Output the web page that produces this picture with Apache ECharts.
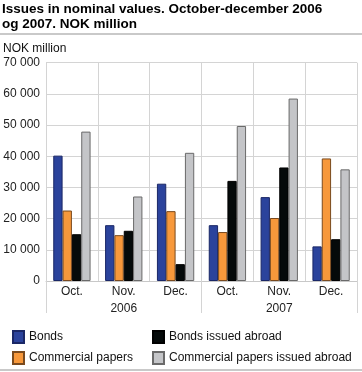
<!DOCTYPE html>
<html>
<head>
<meta charset="utf-8">
<script src="https://cdn.jsdelivr.net/npm/echarts@6/dist/echarts.min.js"></script>
<style>
html,body{margin:0;padding:0;background:#fff;}
#c{width:362px;height:372px;}
</style>
</head>
<body>
<div id="c"></div>
<script>
var months = ['Oct.', 'Nov.', 'Dec.', 'Oct.', 'Nov.', 'Dec.'];
var years = ['2006', '2007'];
var bonds = [40200, 17900, 31200, 17900, 26900, 11100];
var commercialPapers = [22600, 14700, 22400, 15700, 20200, 39300];
var bondsAbroad = [15000, 16100, 5400, 32100, 36400, 13400];
var commercialPapersAbroad = [47900, 27100, 41100, 49700, 58500, 35800];
var seriesNames = ['Bonds', 'Commercial papers', 'Bonds issued abroad', 'Commercial papers issued abroad'];

var font = 'Liberation Sans, Arial, sans-serif';
var chart = echarts.init(document.getElementById('c'), null, {renderer: 'canvas'});

function bar(name, data, color, border) {
  return {
    name: name, type: 'bar', data: data, xAxisIndex: 0,
    barGap: '0%', barCategoryGap: '28%',
    itemStyle: {color: color, borderColor: border, borderWidth: 1},
    emphasis: {disabled: true}
  };
}

function legendBlock(names, left) {
  return {
    data: names,
    orient: 'vertical', left: left, top: 330, padding: 0,
    itemWidth: 11, itemHeight: 12, itemGap: 7,
    icon: 'rect', selectedMode: false,
    textStyle: {fontSize: 12, color: '#111', fontFamily: font, lineHeight: 13}
  };
}

chart.setOption({
  animation: false,
  textStyle: {fontFamily: font},
  title: {
    text: 'Issues in nominal values. October-december 2006\nog 2007. NOK million',
    left: 2, top: 2, padding: 0,
    textStyle: {fontSize: 13.5, fontWeight: 'bold', color: '#000', lineHeight: 15, fontFamily: font}
  },
  graphic: [
    {type: 'rect', shape: {x: 0, y: 33, width: 362, height: 2}, style: {fill: '#c9c9c9'}},
    {type: 'rect', shape: {x: 0, y: 369, width: 362, height: 2}, style: {fill: '#c9c9c9'}}
  ],
  grid: {left: 43, right: 5, top: 62.7, bottom: 91, containLabel: false},
  legend: [
    legendBlock([seriesNames[0], seriesNames[1]], 12),
    legendBlock([seriesNames[2], seriesNames[3]], 152)
  ],
  xAxis: [
    {
      type: 'category', data: months, position: 'bottom',
      axisLine: {show: true, lineStyle: {color: '#c8c8c8', width: 1}},
      axisTick: {show: false},
      splitLine: {show: true, interval: 0, lineStyle: {color: '#d4d4d4', width: 1}},
      axisLabel: {fontSize: 12, color: '#222', margin: 5, interval: 0, fontFamily: font}
    },
    {
      type: 'category', data: years, position: 'bottom',
      axisLine: {show: false},
      axisTick: {show: true, length: 32, interval: 0, lineStyle: {color: '#d4d4d4', width: 1}},
      splitLine: {show: false},
      axisLabel: {fontSize: 12, color: '#222', margin: 22, interval: 0, fontFamily: font}
    }
  ],
  yAxis: {
    type: 'value', min: 0, max: 70000, interval: 10000,
    name: 'NOK million', nameLocation: 'end', nameGap: 8,
    nameTextStyle: {align: 'left', padding: [0, 0, 0, -43], fontSize: 12, color: '#111', fontFamily: font},
    axisLine: {show: false}, axisTick: {show: false},
    splitLine: {lineStyle: {color: '#d4d4d4', width: 1}},
    axisLabel: {
      fontSize: 12, color: '#222', margin: 6, fontFamily: font,
      formatter: function (v) { return String(v).replace(/\B(?=(\d{3})+(?!\d))/g, ' '); }
    }
  },
  series: [
    bar(seriesNames[0], bonds, '#2b439c', '#1a2766'),
    bar(seriesNames[1], commercialPapers, '#f7983b', '#7a4a1e'),
    bar(seriesNames[2], bondsAbroad, '#050a0a', '#000000'),
    bar(seriesNames[3], commercialPapersAbroad, '#c4c5c8', '#6a6a6a')
  ]
});
</script>
</body>
</html>
